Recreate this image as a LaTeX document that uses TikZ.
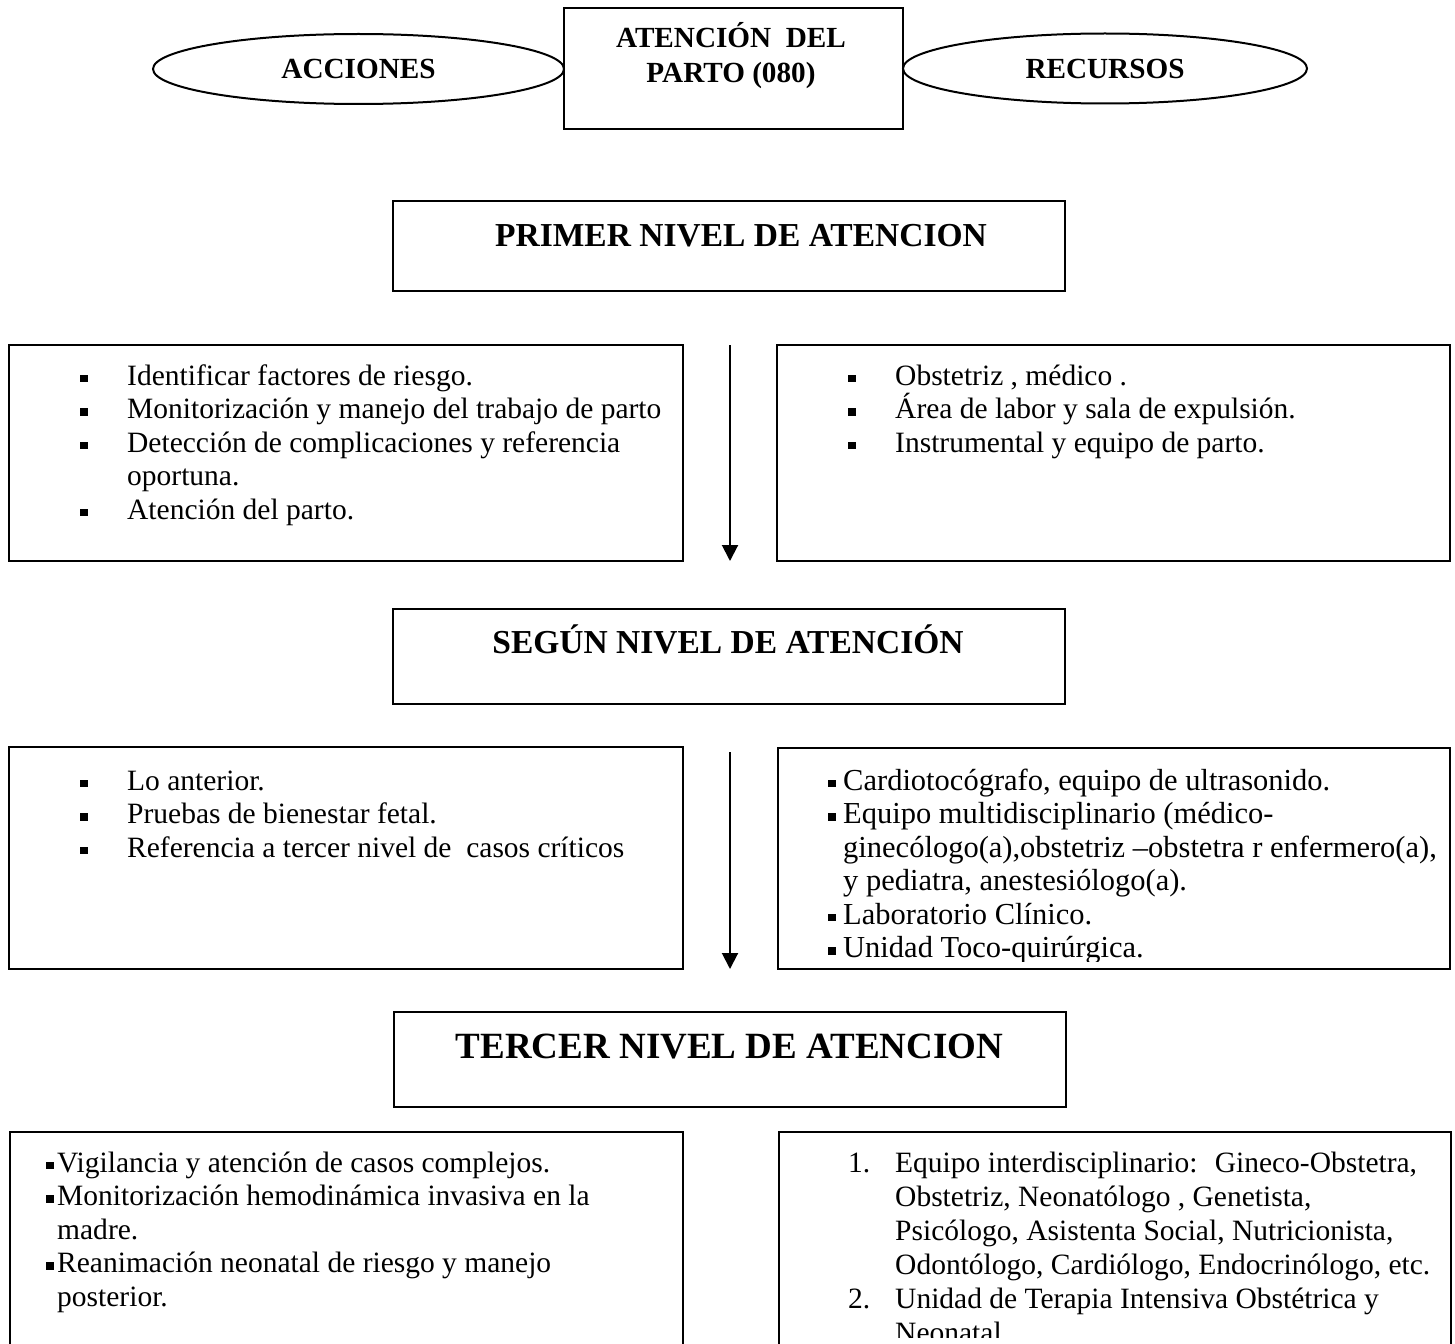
\documentclass[tikz,border=0pt]{standalone}
\usepackage{fontspec}
\setmainfont{Liberation Serif}
\usetikzlibrary{arrows.meta,shapes.geometric}
\newcommand{\sqbul}{\rule[3pt]{7.5pt}{7.5pt}}
\begin{document}
\begin{tikzpicture}[x=1pt,y=-1pt,
  box/.style={draw,line width=2pt,rectangle,inner sep=0pt},
  oval/.style={draw,line width=2pt,ellipse,inner sep=0pt},
  head/.style={font=\fontsize{29.2}{35}\selectfont\bfseries,inner sep=0pt},
  ttl/.style={font=\fontsize{33.5}{40}\selectfont\bfseries,inner sep=0pt,anchor=base},
  itm/.style={font=\fontsize{29.5}{34}\selectfont,inner sep=0pt,anchor=base west},
  itmb/.style={font=\fontsize{30.5}{34}\selectfont,inner sep=0pt,anchor=base west},
  arr/.style={line width=2pt,-{Triangle[width=16pt,length=16pt]}}]
\useasboundingbox (0,0) rectangle (1455,1343);
\clip (0,0) rectangle (1455,1343);
\fill[white] (0,0) rectangle (1455,1343);

% header
\node[box,minimum width=339pt,minimum height=121pt] (cbox) at (733.5,68.5) {};
\node[head,anchor=base] (ct1) at (731,48) {ATENCIÓN~ DEL};
\node[head,anchor=base] (ct2) at (731,83) {PARTO (080)};
\node[oval,head,minimum width=411pt,minimum height=70pt] (acc) at (358.5,69) {ACCIONES};
\node[oval,head,minimum width=404pt,minimum height=70pt] (rec) at (1105,68.5) {RECURSOS};

% level titles
\node[box,minimum width=672pt,minimum height=90pt] (n1) at (729,246) {};
\node[ttl] (n1t) at (741,246) {PRIMER NIVEL DE ATENCION};
\node[box,minimum width=672pt,minimum height=95pt] (n2) at (729,656.5) {};
\node[ttl] (n2t) at (728,653) {SEGÚN NIVEL DE ATENCIÓN};
\node[box,minimum width=672pt,minimum height=95pt] (n3) at (730,1059.5) {};
\node[ttl,font=\fontsize{37}{44}\selectfont\bfseries] (n3t) at (729.5,1058) {TERCER NIVEL DE ATENCION};

% section 1
\node[box,minimum width=674pt,minimum height=216pt] (a1) at (346,453) {};
\node[box,minimum width=673pt,minimum height=216pt] (r1) at (1113.5,453) {};
\coordinate (p1s) at (730,345);
\coordinate (p1e) at (730,561);
\draw[arr] (p1s) -- (p1e);

\node[itm] (a1l1) at (80,385) {\makebox[47pt][l]{\sqbul}Identificar factores de riesgo.};
\node[itm] (a1l2) at (80,418.5) {\makebox[47pt][l]{\sqbul}Monitorización y manejo del trabajo de parto};
\node[itm] (a1l3) at (80,452) {\makebox[47pt][l]{\sqbul}Detección de complicaciones y referencia};
\node[itm] (a1l4) at (127,485.5) {oportuna.};
\node[itm] (a1l5) at (80,519) {\makebox[47pt][l]{\sqbul}Atención del parto.};

\node[itm] (r1l1) at (848,385) {\makebox[47pt][l]{\sqbul}Obstetriz , médico .};
\node[itm] (r1l2) at (848,418.5) {\makebox[47pt][l]{\sqbul}Área de labor y sala de expulsión.};
\node[itm] (r1l3) at (848,452) {\makebox[47pt][l]{\sqbul}Instrumental y equipo de parto.};

% section 2
\node[box,minimum width=674pt,minimum height=222pt] (a2) at (346,858) {};
\node[box,minimum width=672pt,minimum height=221pt] (r2) at (1114,858.5) {};
\coordinate (p2s) at (730,752);
\coordinate (p2e) at (730,969);
\draw[arr] (p2s) -- (p2e);

\node[itm] (a2l1) at (80,790) {\makebox[47pt][l]{\sqbul}Lo anterior.};
\node[itm] (a2l2) at (80,823.5) {\makebox[47pt][l]{\sqbul}Pruebas de bienestar fetal.};
\node[itm] (a2l3) at (80,857) {\makebox[47pt][l]{\sqbul}Referencia a tercer nivel de~ casos críticos};

\begin{scope}
\clip (780,750) rectangle (1448,961);
\node[itmb] (r2l1) at (828,790) {\makebox[15pt][l]{\sqbul}Cardiotocógrafo, equipo de ultrasonido.};
\node[itmb] (r2l2) at (828,823.5) {\makebox[15pt][l]{\sqbul}Equipo multidisciplinario (médico-};
\node[itmb] (r2l3) at (843,857) {ginecólogo(a),obstetriz –obstetra r enfermero(a),};
\node[itmb] (r2l4) at (843,890.5) {y pediatra, anestesiólogo(a).};
\node[itmb] (r2l5) at (828,924) {\makebox[15pt][l]{\sqbul}Laboratorio Clínico.};
\node[itmb] (r2l6) at (828,957.5) {\makebox[15pt][l]{\sqbul}Unidad Toco-quirúrgica.};
\end{scope}

% section 3
\node[box,minimum width=673pt,minimum height=268pt] (a3) at (346.5,1266) {};
\node[box,minimum width=672pt,minimum height=268pt] (r3) at (1115,1266) {};

\node[itm] (a3l1) at (46,1172) {\makebox[11pt][l]{\sqbul}Vigilancia y atención de casos complejos.};
\node[itm] (a3l2) at (46,1205.6) {\makebox[11pt][l]{\sqbul}Monitorización hemodinámica invasiva en la};
\node[itm] (a3l3) at (57,1239.2) {madre.};
\node[itm] (a3l4) at (46,1272.8) {\makebox[11pt][l]{\sqbul}Reanimación neonatal de riesgo y manejo};
\node[itm] (a3l5) at (57,1306.4) {posterior.};

\begin{scope}
\clip (781,1134) rectangle (1449,1337);
\node[itm] (r3l1) at (848,1172) {\makebox[47pt][l]{1.}Equipo interdisciplinario:~ Gineco-Obstetra,};
\node[itm] (r3l2) at (895,1206) {Obstetriz, Neonatólogo , Genetista,};
\node[itm] (r3l3) at (895,1240) {Psicólogo, Asistenta Social, Nutricionista,};
\node[itm] (r3l4) at (895,1274) {Odontólogo, Cardiólogo, Endocrinólogo, etc.};
\node[itm] (r3l5) at (848,1308) {\makebox[47pt][l]{2.}Unidad de Terapia Intensiva Obstétrica y};
\node[itm] (r3l6) at (895,1342) {Neonatal};
\end{scope}
\end{tikzpicture}
\end{document}
